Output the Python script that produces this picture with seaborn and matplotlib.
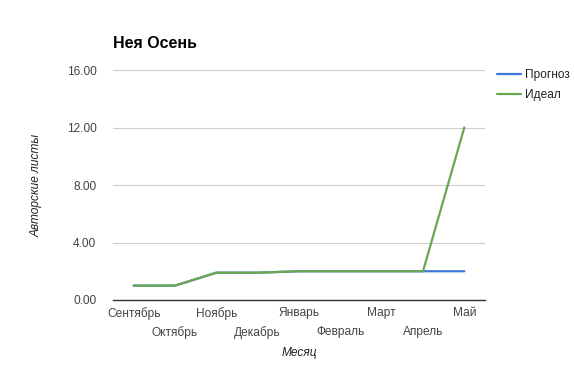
import matplotlib
matplotlib.use("Agg")
import matplotlib.pyplot as plt
import seaborn as sns
import pandas as pd

months = ["Сентябрь", "Октябрь", "Ноябрь", "Декабрь", "Январь",
          "Февраль", "Март", "Апрель", "Май"]
forecast = [1.0, 1.0, 1.9, 1.9, 2.0, 2.0, 2.0, 2.0, 2.0]
ideal = [1.0, 1.0, 1.9, 1.9, 2.0, 2.0, 2.0, 2.0, 12.0]
series_names = ["Прогноз", "Идеал"]
colors = ["#3c78d8", "#6aa84f"]
yticks = [0, 4, 8, 12, 16]

sns.set_theme(style="white")
plt.rcParams['font.family'] = ['Liberation Sans', 'DejaVu Sans']

df = pd.DataFrame({
    "x": list(range(len(months))) * 2,
    "value": forecast + ideal,
    "series": [series_names[0]] * len(months) + [series_names[1]] * len(months),
})

fig = plt.figure(figsize=(5.74, 3.65), dpi=100)
ax = fig.add_axes([113 / 574, 65 / 365, 372 / 574, 230 / 365])

sns.lineplot(data=df, x="x", y="value", hue="series", hue_order=series_names,
             palette=colors, linewidth=1.6, ax=ax, legend=True)

ax.set_xlim(-0.5, len(months) - 0.5)
ax.set_ylim(0, 16)
ax.set_yticks(yticks)
ax.set_yticklabels([f"{v:.2f}" for v in yticks])
ax.set_xticks(range(len(months)))
ax.set_xticklabels(months)
ax.grid(axis="y", color="#cccccc", linewidth=0.8)
ax.set_axisbelow(True)
for s in ["top", "right", "left"]:
    ax.spines[s].set_visible(False)
ax.spines["bottom"].set_color("#333333")
ax.spines["bottom"].set_linewidth(1.0)
ax.tick_params(axis="both", length=0, labelsize=8.6, labelcolor="#444444")
ax.tick_params(axis="y", pad=12)
ax.tick_params(axis="x", pad=5)

ax.set_xlabel("Месяц", fontstyle="italic", fontsize=8.6, color="#222222")
ax.xaxis.set_label_coords(0.5, -0.205)
ax.set_ylabel("Авторские листы", fontstyle="italic", fontsize=8.6, color="#222222", labelpad=17)

# stagger every second month label downwards
for i, tick in enumerate(ax.xaxis.get_major_ticks()):
    if i % 2 == 1:
        tick.set_pad(5 + 13.5)

fig.text(113 / 574, 1 - 44 / 365, "Нея Осень", fontsize=11.5, fontweight="bold",
         va="center", ha="left", color="#000000")

leg = ax.legend(loc="upper left", bbox_to_anchor=(492 / 574, 1 - 64 / 365),
                bbox_transform=fig.transFigure, frameon=False, fontsize=8.6,
                handlelength=2.0, handletextpad=0.4, labelspacing=0.7,
                borderaxespad=0)
for t in leg.get_texts():
    t.set_color("#222222")

fig.savefig("out.png", dpi=100)
